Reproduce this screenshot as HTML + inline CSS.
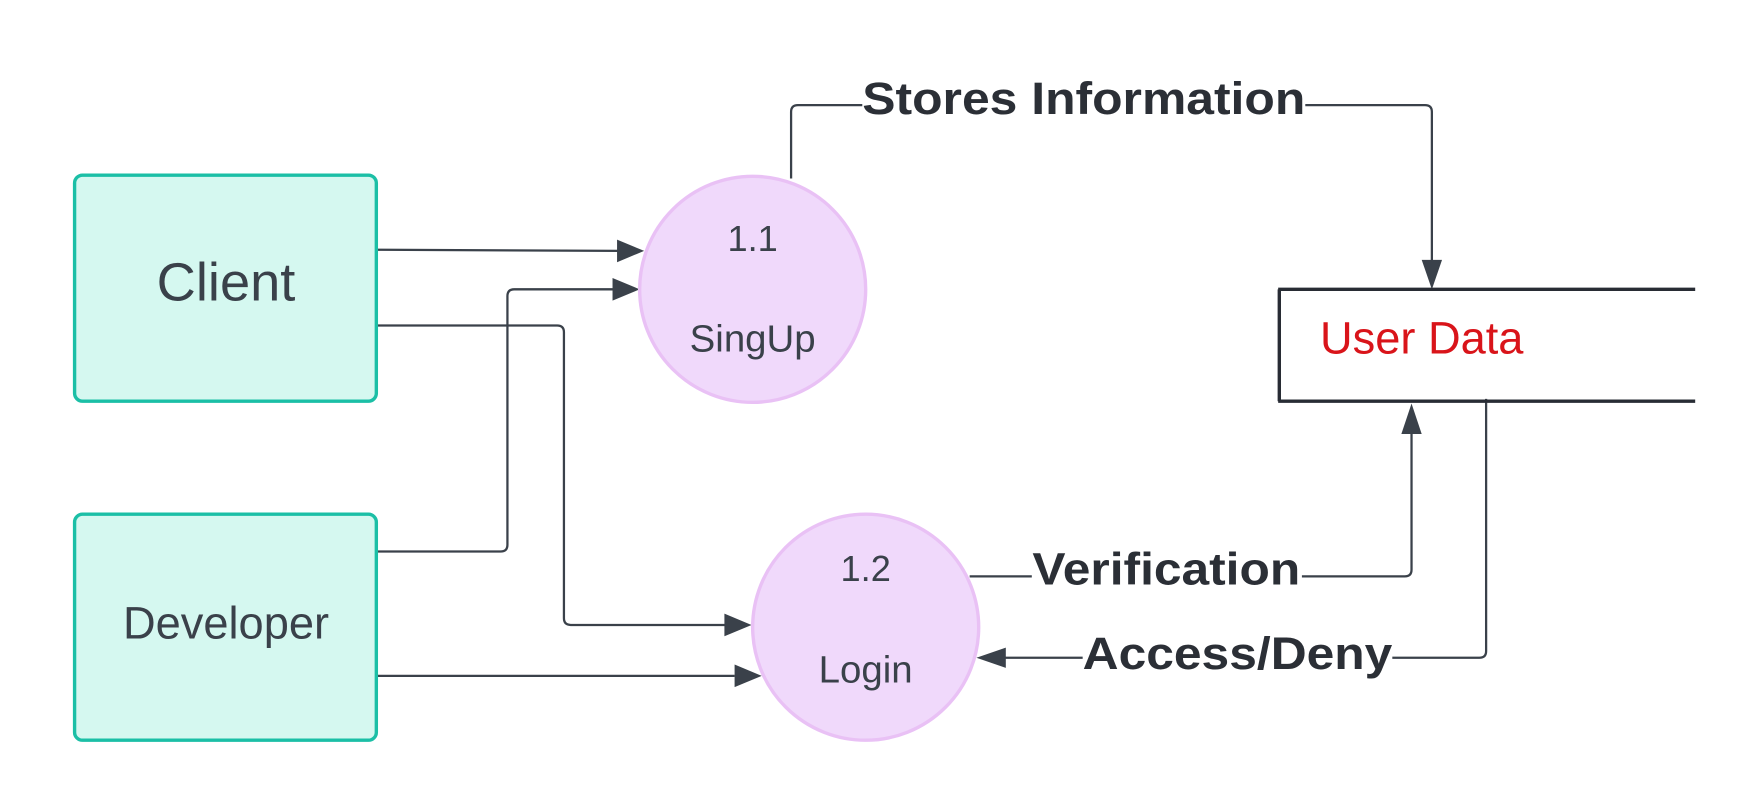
<!DOCTYPE html>
<html><head><meta charset="utf-8"><style>
html,body{margin:0;padding:0;background:#fff;}
svg{display:block;}
text{font-family:"Liberation Sans",sans-serif;}
</style></head><body>
<svg width="1763" height="812" viewBox="0 0 1560 718.5" preserveAspectRatio="none" xmlns="http://www.w3.org/2000/svg">
<defs>
<marker id="a" markerWidth="12" markerHeight="10" refX="11" refY="5" orient="auto" markerUnits="userSpaceOnUse" viewBox="0 0 12 10">
</marker>
</defs>
<g fill="none" stroke="#3a414a" stroke-width="2">
<path d="M333 221 L548 222"/>
<path d="M333 488 L443 488 Q449 488 449 482 L449 262 Q449 256 455 256 L545 256"/>
<path d="M333 288 L493 288 Q499 288 499 294 L499 547 Q499 553 505 553 L642 553"/>
<path d="M333 598 L650 598"/>
<path d="M700 158 L700 99 Q700 93 706 93 L763 93"/>
<path d="M1155 93 L1261 93 Q1267 93 1267 99 L1267 232"/>
<path d="M858 510 L913 510"/>
<path d="M1152 510 L1243 510 Q1249 510 1249 504 L1249 382"/>
<path d="M1315 353 L1315 576 Q1315 582 1309 582 L1232 582"/>
<path d="M958 582 L888 582"/>
</g>
<g fill="#3a414a">
<polygon points="570,222 546,212 546,232"/>
<polygon points="566,256 542,246 542,266"/>
<polygon points="665,553 641,543 641,563"/>
<polygon points="674,598 650,588 650,608"/>
<polygon points="1267,256 1258,230 1276,230"/>
<polygon points="1249,357 1240,384 1258,384"/>
<polygon points="864,582 890,573 890,591"/>
</g>
<rect x="66" y="155" width="267" height="200" rx="7" fill="#d5f8f0" stroke="#1bbfa6" stroke-width="3"/>
<rect x="66" y="455" width="267" height="200" rx="7" fill="#d5f8f0" stroke="#1bbfa6" stroke-width="3"/>
<circle cx="666" cy="256" r="100" fill="#f0d9fb" stroke="#e9c1f5" stroke-width="3"/>
<circle cx="766" cy="555" r="100" fill="#f0d9fb" stroke="#e9c1f5" stroke-width="3"/>
<g stroke="#282c34" stroke-width="3">
<line x1="1131" y1="256" x2="1500" y2="256"/>
<line x1="1131" y1="355" x2="1500" y2="355"/>
<line x1="1132" y1="256" x2="1132" y2="355"/>
</g>
<g fill="#3a414a" text-anchor="middle">
<text x="200" y="266" font-size="48">Client</text>
<text x="200" y="565" font-size="40">Developer</text>
<text x="666" y="222" font-size="32">1.1</text>
<text x="666" y="311" font-size="34">SingUp</text>
<text x="766" y="514" font-size="32">1.2</text>
<text x="766" y="604" font-size="34">Login</text>
</g>
<text x="1168" y="313" font-size="40" fill="#d9141a">User Data</text>
<g fill="#2b2f36" font-weight="bold" text-anchor="middle" font-size="40">
<text x="959" y="101" textLength="392" lengthAdjust="spacingAndGlyphs">Stores Information</text>
<text x="1032" y="517" textLength="237" lengthAdjust="spacingAndGlyphs">Verification</text>
<text x="1095" y="592" textLength="274" lengthAdjust="spacingAndGlyphs">Access/Deny</text>
</g>
</svg>
</body></html>
